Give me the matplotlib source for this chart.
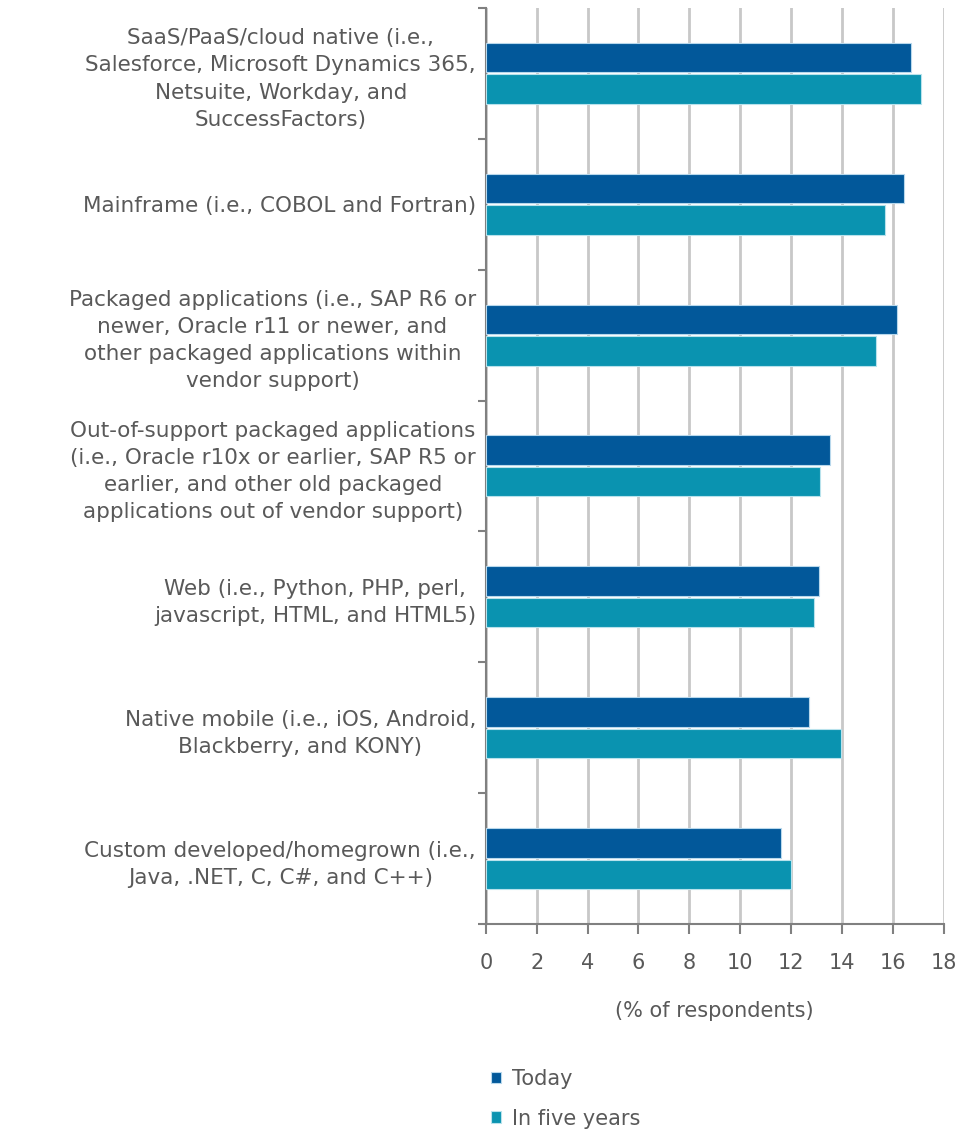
import numpy as np
import matplotlib.pyplot as plt

categories = [
    "SaaS/PaaS/cloud native (i.e.,\nSalesforce, Microsoft Dynamics 365,\nNetsuite, Workday, and\nSuccessFactors)",
    "Mainframe (i.e., COBOL and Fortran)",
    "Packaged applications (i.e., SAP R6 or\nnewer, Oracle r11 or newer, and\nother packaged applications within\nvendor support)",
    "Out-of-support packaged applications\n(i.e., Oracle r10x or earlier, SAP R5 or\nearlier, and other old packaged\napplications out of vendor support)",
    "Web (i.e., Python, PHP, perl,\njavascript, HTML, and HTML5)",
    "Native mobile (i.e., iOS, Android,\nBlackberry, and KONY)",
    "Custom developed/homegrown (i.e.,\nJava, .NET, C, C#, and C++)",
]
today = [16.7, 16.45, 16.15, 13.55, 13.1, 12.7, 11.6]
in_five_years = [17.1, 15.7, 15.35, 13.15, 12.9, 13.95, 12.0]
x_ticks = list(range(0, 19, 2))

TEXT = "#595959"
DARK = "#02589A"
TEAL = "#0A93B0"
GRID = "#C8C8C8"

plt.rcParams["font.family"] = ["DejaVu Sans"]

fig = plt.figure(figsize=(9.6, 11.31), dpi=100)
ax = fig.add_axes([0.506, 0.183, 0.477, 0.810])

n = len(categories)
y = np.arange(n)
h = 0.225
ax.barh(y - h / 2 - 0.008, today, height=h, color=DARK, edgecolor="#B8D8EC",
        linewidth=0.8, label="Today", zorder=3)
ax.barh(y + h / 2 + 0.008, in_five_years, height=h, color=TEAL,
        edgecolor="#B8E2EC", linewidth=0.8, label="In five years", zorder=3)

ax.set_ylim(n - 0.5, -0.5)
ax.set_xlim(0, 18)
ax.set_xticks(x_ticks)
ax.set_xticklabels([str(t) for t in x_ticks], fontsize=15, color=TEXT)
ax.xaxis.grid(True, color=GRID, linewidth=2, zorder=0)
ax.set_axisbelow(True)

# category labels sit at group centres; ticks mark group boundaries
ax.set_yticks(y)
ax.set_yticklabels(categories, fontsize=15.5, color=TEXT, multialignment="center",
                   linespacing=1.45)
ax.tick_params(axis="y", which="major", length=0, pad=7)
ax.set_yticks(np.arange(-0.5, n + 0.5, 1), minor=True)
ax.tick_params(axis="y", which="minor", length=6, width=1.5, color="#808080")
ax.tick_params(axis="x", length=7, width=1.5, color="#808080", pad=14)

for s in ["top", "right"]:
    ax.spines[s].set_visible(False)
for s in ["left", "bottom"]:
    ax.spines[s].set_color("#808080")
    ax.spines[s].set_linewidth(1.5)

ax.set_xlabel("(% of respondents)", fontsize=15, color=TEXT, labelpad=20)

fig.legend(loc="upper left", bbox_to_anchor=(0.492, 0.0715), frameon=False,
           fontsize=15, labelcolor=TEXT, handlelength=0.5, handleheight=0.5,
           handletextpad=0.5, labelspacing=0.95)

fig.savefig("out.png", dpi=100)
